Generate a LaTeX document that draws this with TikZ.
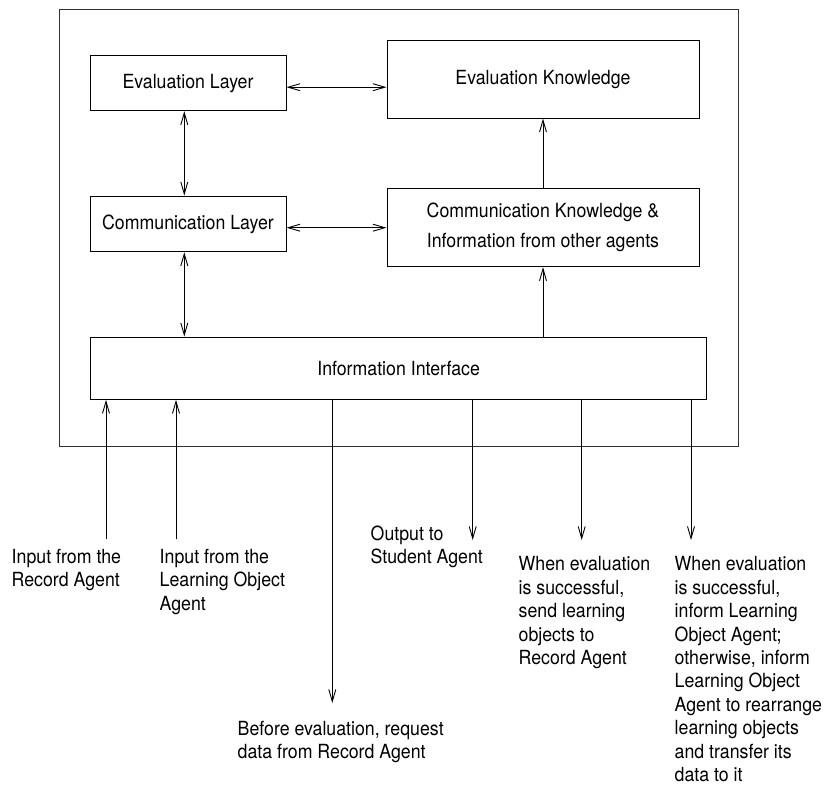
\documentclass[tikz,border=0pt]{standalone}
\usepackage{fontspec}
\setmainfont{TeX Gyre Heros}[FakeStretch=0.91]
\usetikzlibrary{arrows.meta}

\begin{document}
\begin{tikzpicture}[x=1pt, y=-1pt,
    every node/.style={font=\fontsize{19.5}{23.4}\selectfont},
    box/.style={draw, line width=1pt, inner sep=0pt, align=center},
    frame/.style={draw=black!80, line width=1pt, inner sep=0pt},
    lbl/.style={anchor=north west, align=left, inner sep=0pt},
    flow/.style={line width=0.9pt, arrows={-Straight Barb[length=12pt,width=7pt]}},
    bothflow/.style={line width=0.9pt, arrows={Straight Barb[length=12pt,width=7pt]-Straight Barb[length=12pt,width=7pt]}}
  ]
  \useasboundingbox (0,0) rectangle (828,787);

  % enclosing agent frame
  \node[frame, minimum width=679pt, minimum height=437pt] (agent) at (398.5,227.5) {};

  % layers and knowledge stores
  \node[box, minimum width=196pt, minimum height=55pt]   (el) at (188,83.2)    {Evaluation Layer};
  \node[box, minimum width=196pt, minimum height=55.7pt] (cl) at (188,223.9)   {Communication Layer};
  \node[box, minimum width=312pt, minimum height=77.5pt] (ek) at (543,79.3)    {Evaluation Knowledge};
  \node[box, minimum width=312pt, minimum height=78.4pt] (ck) at (543,227.5)
       {Communication Knowledge \&\\[6.6pt]Information from other agents};
  \node[box, minimum width=616.2pt, minimum height=62.3pt] (ii) at (398.6,368.2) {Information Interface};

  % internal connections
  \draw[bothflow] ([yshift=-4pt]el.east) -- ([yshift=-4pt]el.east -| ek.west);
  \draw[bothflow] ([yshift=-3.8pt]cl.east) -- ([yshift=-3.8pt]cl.east -| ck.west);
  \draw[bothflow] ([xshift=-3.7pt]el.south) -- ([xshift=-3.7pt]el.south |- cl.north);
  \draw[bothflow] ([xshift=-3.7pt]cl.south) -- ([xshift=-3.7pt]cl.south |- ii.north);
  \draw[flow] (ck.north) -- (ek.south);
  \draw[flow] (ii.north -| ck.south) -- (ck.south);

  % external inputs
  \coordinate (inrec) at (106,539.3);
  \coordinate (inlo)  at (176,539.3);
  \draw[flow] (inrec) -- (inrec |- ii.south);
  \draw[flow] (inlo)  -- (inlo |- ii.south);

  % external outputs
  \coordinate (outreq) at (332.3,703);
  \coordinate (outstu) at (472.7,540);
  \coordinate (outrec) at (581.7,540);
  \coordinate (outlo)  at (691,540);
  \draw[flow] (ii.south -| outreq) -- (outreq);
  \draw[flow] (ii.south -| outstu) -- (outstu);
  \draw[flow] (ii.south -| outrec) -- (outrec);
  \draw[flow] (ii.south -| outlo)  -- (outlo);

  % descriptions of the external flows
  \node[lbl] (tinrec)  at (11.5,548.8)  {Input from the\\Record Agent};
  \node[lbl] (tinlo)   at (159.5,548.8) {Input from the\\Learning Object\\Agent};
  \node[lbl] (toutreq) at (237.5,720.8) {Before evaluation, request\\data from Record Agent};
  \node[lbl] (toutstu) at (370.5,525.8) {Output to\\Student Agent};
  \node[lbl] (toutrec) at (518.5,556.5) {When evaluation\\is successful,\\send learning\\objects to\\Record Agent};
  \node[lbl] (toutlo)  at (674.5,556.5) {When evaluation\\is successful,\\inform Learning\\Object Agent;\\otherwise, inform\\Learning Object\\Agent to rearrange\\learning objects\\and transfer its\\data to it};
\end{tikzpicture}
\end{document}
